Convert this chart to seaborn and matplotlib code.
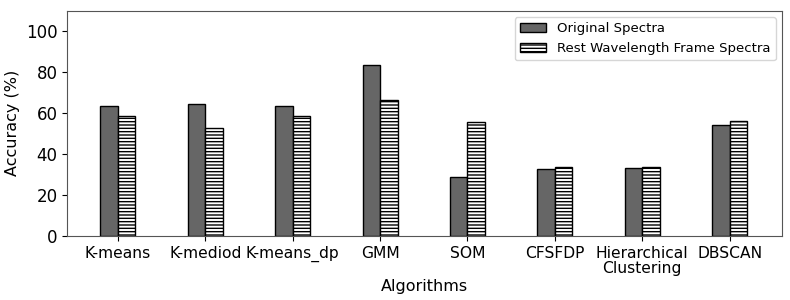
import pandas as pd
import matplotlib.pyplot as plt
import seaborn as sns

algorithms = ['K-means', 'K-mediod', 'K-means_dp', 'GMM', 'SOM',
              'CFSFDP', 'Hierarchical\nClustering', 'DBSCAN']
original = [63.2, 64.3, 63.2, 83.2, 28.8, 32.6, 33.4, 54.0]
rest_frame = [58.5, 52.5, 58.5, 66.3, 55.5, 33.5, 33.5, 56.3]
series = ['Original Spectra', 'Rest Wavelength Frame Spectra']

df = pd.DataFrame({
    'Algorithm': algorithms * 2,
    'Accuracy': original + rest_frame,
    'Series': [series[0]] * len(algorithms) + [series[1]] * len(algorithms),
})

sns.set_style('ticks')
plt.rcParams['font.family'] = ['DejaVu Sans']
plt.rcParams['text.color'] = 'black'
plt.rcParams['axes.labelcolor'] = 'black'
plt.rcParams['xtick.color'] = 'black'
plt.rcParams['ytick.color'] = 'black'

fig, ax = plt.subplots(figsize=(7.9, 3.0), dpi=100)
sns.barplot(data=df, x='Algorithm', y='Accuracy', hue='Series',
            palette=['#666666', 'white'], width=0.4, saturation=1,
            edgecolor='black', linewidth=1.0, ax=ax)

# hatch the rest-frame bars
for patch in ax.containers[1]:
    patch.set_hatch('-----')

ax.set_ylim(0, 110)
ax.set_xlim(-0.58, 7.6)
ax.set_yticks([0, 20, 40, 60, 80, 100])
ax.set_xlabel('Algorithms', fontsize=11.5, labelpad=2)
ax.set_ylabel('Accuracy (%)', fontsize=11.5)
ax.tick_params(axis='y', labelsize=12)
ax.tick_params(axis='x', labelsize=11.2)
for lbl in ax.get_xticklabels():
    lbl.set_linespacing(1.0)
for s in ax.spines.values():
    s.set_visible(True)
    s.set_color('#555555')

handles, labels = ax.get_legend_handles_labels()
for h in handles:
    h.set_edgecolor('black')
handles[1].set_hatch('-----')
ax.legend(handles, labels, loc='upper right', fontsize=9.5, frameon=True)

plt.subplots_adjust(left=0.085, right=0.99, top=0.965, bottom=0.213)
plt.savefig('out.png', dpi=100)
plt.close()
